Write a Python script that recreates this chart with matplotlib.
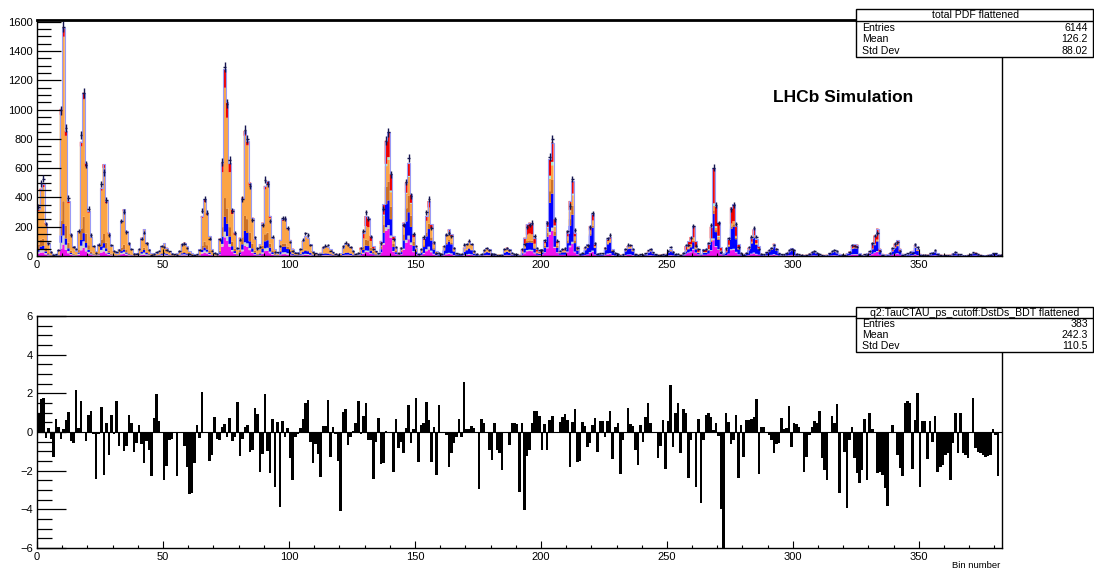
import numpy as np
import matplotlib
matplotlib.use('Agg')
from matplotlib import pyplot as plt
from matplotlib.patches import Rectangle
from matplotlib.lines import Line2D
from matplotlib.ticker import MultipleLocator

plt.rcParams['font.family'] = ['Liberation Sans', 'DejaVu Sans']

# total PDF per bin, groups of 8 bins
total = [
    320, 460, 490, 225, 85, 30, 15, 10,
    40, 1005, 1560, 855, 376, 150, 68, 34,
    170, 780, 1115, 636, 308, 130, 68, 34,
    79, 465, 627, 376, 160, 68, 34, 22,
    45, 240, 319, 171, 79, 45, 18, 18,
    45, 125, 182, 91, 45, 18, 11, 18,
    34, 68, 86, 57, 34, 18, 11, 18,
    34, 79, 91, 68, 34, 18, 11, 12,
    45, 274, 388, 296, 137, 45, 18, 15,
    118, 636, 1277, 1049, 636, 319, 160, 45,
    125, 399, 855, 787, 502, 262, 114, 45,
    79, 228, 479, 513, 274, 125, 45, 22,
    110, 250, 260, 190, 110, 50, 25, 20,
    46, 103, 137, 125, 80, 34, 20, 15,
    23, 57, 68, 62, 46, 23, 15, 15,
    20, 57, 80, 84, 62, 34, 15, 15,
    57, 160, 273, 262, 137, 68, 34, 15,
    103, 353, 787, 844, 559, 137, 57, 23,
    57, 228, 502, 636, 422, 148, 57, 20,
    46, 125, 273, 376, 216, 91, 34, 15,
    15, 68, 148, 182, 148, 57, 20, 12,
    15, 57, 80, 103, 80, 34, 15, 10,
    12, 39, 53, 46, 20, 12, 10, 10,
    12, 46, 57, 46, 20, 12, 10, 10,
    45, 125, 217, 228, 221, 125, 45, 34,
    45, 103, 239, 661, 775, 251, 103, 34,
    45, 45, 160, 376, 513, 160, 68, 20,
    20, 57, 80, 205, 285, 80, 20, 15,
    15, 57, 114, 130, 45, 20, 12, 10,
    12, 45, 68, 72, 45, 15, 10, 10,
    10, 15, 30, 45, 25, 12, 10, 10,
    10, 15, 30, 45, 30, 12, 10, 10,
    15, 68, 100, 130, 205, 100, 45, 15,
    45, 45, 80, 200, 600, 340, 230, 60,
    20, 45, 114, 331, 355, 205, 80, 20,
    15, 20, 57, 125, 182, 114, 68, 15,
    10, 25, 40, 55, 84, 50, 20, 10,
    10, 20, 35, 52, 40, 15, 10, 8,
    8, 10, 15, 25, 30, 20, 10, 8,
    8, 10, 18, 28, 39, 25, 15, 8,
    8, 20, 30, 72, 80, 78, 20, 8,
    10, 20, 30, 85, 140, 187, 50, 15,
    10, 12, 20, 50, 85, 107, 50, 15,
    8, 12, 20, 35, 75, 45, 15, 8,
    8, 10, 15, 25, 34, 20, 10, 8,
    8, 8, 10, 18, 23, 15, 8, 6,
    6, 8, 12, 18, 23, 15, 8, 6,
    6, 8, 12, 18, 20, 12, 8,
]

# pulls (data - model) / error per bin
pulls = [
    1.0, 1.69, 1.74, -0.3, 0.22, -0.38, -1.28, 0.69, 0.26, -0.34,
    0.17, 0.62, 1.03, -0.47, -0.55, 2.17, 0.22, 1.62, 0.0, -0.47,
    0.86, 1.09, -0.1, -2.45, -0.1, 1.28, -2.2, 0.45, -1.19, 0.88,
    -0.1, 1.62, -0.72, 0.02, -0.98, -0.72, 0.88, 0.45, -1.02, -0.55,
    0.37, -0.6, -1.6, -0.47, -0.95, -2.3, 0.74, 1.98, 0.55, -0.05,
    -2.48, -1.76, -0.43, -0.34, 0.02, -2.28, -0.02, -0.05, -0.72, -1.79,
    -3.2, -3.17, -1.62, 0.36, -0.3, 2.07, -0.05, -0.05, -1.5, -1.19,
    0.76, -0.34, -0.43, 0.28, 0.4, -0.24, 0.72, -0.47, -0.24, 1.57,
    -1.24, -0.38, 0.28, 0.36, -1.02, -0.95, 1.26, 0.93, -2.05, -1.14,
    1.95, -1.0, -2.14, 0.65, -2.86, 0.5, -3.9, 0.55, -0.24, 0.2,
    -1.33, -2.5, -0.24, -0.1, 0.22, 0.69, 1.48, 1.67, -0.5, -1.6,
    -0.6, -1.14, -2.33, 0.31, 0.31, 1.67,
    -1.28, 0.28, -0.1, -1.5, -4.1, 1.05, 1.17, -0.67, -0.24, 0.05,
    0.45, 1.62, -0.1, 0.83, 1.48, -0.4, -0.4, -2.43, -0.5, 0.71,
    -1.67, -1.62, 0.05, 0.02, -0.03, -2.05, 0.66, -0.84, -0.5, -1.07,
    0.19, 1.4, -0.55, 0.14, 1.74, -1.53, 0.36, 0.45, 1.57, 0.62,
    -1.53, 0.28, -2.22, 1.4, 0.02, -0.07, -0.16, -1.79, -1.1, -0.55,
    -0.24, 0.66, -0.24, 2.6, 0.14, 0.14, 0.31, 0.19, 0.02, -2.95,
    0.66, 0.45, 0.02, -0.93, -1.45, 0.45, -0.93, -1.1, -1.97, 0.02,
    0.02, -0.67, 0.45, 0.48, 0.41, -3.1, 0.45, -4.03, -1.24, -0.93,
    0.45, 1.1, 1.1, 0.83, -0.93, 0.41, -0.93, 0.6, 0.83, 0.02,
    0.02, 0.53, 0.8, 0.93, 0.6, -1.79, 0.53, 1.17, -1.53, -1.48,
    0.53, 0.31, -0.76, -0.55, 0.36, 0.71, -1.02, 0.58, 0.58, -0.24,
    0.58, 1.1, -1.41, 0.28, 0.48, -2.17, -0.4, 0.02, 1.26, 0.41,
    0.31, -0.93, -1.71, 0.36, -0.5, 0.8, 1.48, 0.45, -0.03, 0.02,
    -1.33, -0.72, 0.62, -1.9, 0.58, 2.43, -0.79, 1.0, 1.48,
    -1.07, 1.17, 1.0, -2.4, -0.41, -0.05, -2.83, 0.66, -3.69, -0.41,
    0.88, 0.97, 0.76, 0.1, 0.45, -0.2, -4.0, -6.5,
    0.97, 0.53, -0.62, -0.41, 0.88, -2.4, 0.36, -1.31, 0.62, 0.62,
    0.67, 0.79, 1.71, -2.17, 0.24, 0.24, -0.07, -0.16, -0.41, -1.07,
    -0.62, -0.55, 0.71, 0.14, 0.19, 1.34, -0.79, 0.45, 0.41, 0.28,
    -0.07, -2.05, -1.28, -0.16, 0.28, 0.59, 0.45, 1.1, -1.36, -1.97,
    -2.48, -0.07, 0.83, 0.48, 1.43, -3.17, -0.07, -1.02, -3.95, -0.41,
    0.24, -1.36, -2.14, -2.66, -1.97, 0.66, -2.48, 1.0, 0.14, -0.07,
    -2.14, -2.05, -2.22, -2.91, -3.83, -0.07, 0.36, -0.07, -1.19, -1.88,
    -2.28, 1.48, 1.62, 1.48, -1.93, 0.62, 2.03, -2.83, 0.59, 0.59,
    -1.41, 0.59, -0.5, 0.83, -2.05, -1.79, -1.71, -1.19, -1.1, -2.48,
    -0.59, 0.97, -1.1, 0.97, -1.1, -1.19, -1.36, -0.07, 1.74, -0.84,
    -1.02, -1.1, -1.19, -1.28, -1.24, -1.19, 0.14, -0.16, -2.28, -0.07,
]

# composition of each group of 8 bins (fraction of the total); orange takes the rest
f_magenta = [.05, .05, .05, .05, .05, .05, .05, .05, .06, .10, .08, .07, .05, .05, .05, .05,
             .10, .22, .18, .12, .08, .08, .08, .08, .15, .22, .16, .10, .10, .10, .10, .10,
             .20, .18, .12, .10, .10, .10, .10, .10, .12, .15, .15, .10, .10, .10, .10, .10]
f_grey = [.04, .04, .04, .04, .04, .08, .08, .08, .04, .03, .03, .04, .05, .06, .06, .06,
          .04, .03, .04, .05, .04, .06, .06, .06, .04, .03, .03, .03, .05, .05, .05, .05,
          .04, .02, .02, .03, .05, .05, .05, .05, .04, .03, .03, .05, .05, .05, .05, .05]
f_blue = [.05, .05, .05, .05, .05, .10, .10, .10, .05, .08, .09, .10, .15, .15, .15, .15,
          .12, .20, .25, .32, .42, .35, .35, .35, .22, .30, .36, .55, .55, .55, .55, .55,
          .22, .28, .42, .55, .60, .60, .60, .60, .50, .35, .45, .60, .60, .60, .60, .60]
f_brown = [.10, .10, .10, .10, .10, .08, .08, .08, .10, .10, .12, .10, .08, .05, .05, .05,
           .15, .15, .18, .10, .06, .05, .05, .05, .06, .12, .12, .05, .03, .03, .03, .03,
           .05, .04, .05, .03, .03, .03, .03, .03, .00, .03, .00, .00, .00, .00, .00, .00]
f_cyan = [0] * 17 + [.02, .01] + [0] * 6 + [.03, .02] + [0] * 6 + [.03] + [0] * 14
f_red = [.04, .04, .04, .04, .04, .03, .03, .03, .05, .10, .04, .05, .04, .03, .03, .03,
         .25, .20, .14, .12, .08, .05, .05, .05, .33, .17, .17, .15, .10, .10, .10, .10,
         .38, .40, .33, .22, .10, .10, .10, .10, .25, .40, .28, .12, .12, .12, .12, .12]

stats_top = ['total PDF flattened', '6144', '126.2', '88.02']
stats_bot = ['q2:TauCTAU_ps_cutoff:DstDs_BDT flattened', '383', '242.3', '110.5']

W, H = 1094, 574
fig = plt.figure(figsize=(W / 100, H / 100), dpi=100)

def fx(px):
    return px / W

def fy(py):
    return 1 - py / H

ax1 = fig.add_axes([fx(37), fy(256), fx(1002) - fx(37), fy(20) - fy(256)])
ax2 = fig.add_axes([fx(37), fy(548), fx(1002) - fx(37), fy(316) - fy(548)])

tot = np.array(total, dtype=float)
nb = len(tot)
grp = np.arange(nb) // 8
edges = np.arange(nb + 1)
comps = [
    (np.array(f_magenta)[grp], '#ee11ee'),
    (np.array(f_grey)[grp], '#cfcfcf'),
    (np.array(f_blue)[grp], '#0000ff'),
    (np.array(f_brown)[grp], '#cc7026'),
]
f_or = 1 - sum(np.array(f)[grp] for f in [f_magenta, f_grey, f_blue, f_brown, f_cyan, f_red])
comps += [(f_or, '#fba446'), (np.array(f_cyan)[grp], '#a8ecd2'), (np.array(f_red)[grp], '#ee0000')]

# stacked components, drawn as filled steps so neighbouring bins touch
bottom = np.zeros(nb)
for frac, col in comps:
    top = bottom + frac * tot
    ax1.stairs(top, edges, baseline=bottom, fill=True, color=col, linewidth=0)
    bottom = top
ax1.stairs(tot, edges, color='#9a9af5', linewidth=0.8)

pl = np.array(pulls)
data = tot + pl * np.sqrt(tot)
ax1.errorbar(edges[:-1] + 0.5, data, yerr=np.sqrt(np.clip(data, 0, None)), xerr=0.5,
             fmt='none', ecolor='#14144e', elinewidth=1.0, capsize=0)

ax1.set_xlim(0, nb)
ax1.set_ylim(0, 1612)
ax1.yaxis.set_major_locator(MultipleLocator(200))
ax1.yaxis.set_minor_locator(MultipleLocator(50))
ax1.xaxis.set_major_locator(MultipleLocator(50))
ax1.xaxis.set_minor_locator(MultipleLocator(10))
ax1.tick_params(axis='y', which='major', direction='in', length=17, width=0.9, labelsize=8, pad=3)
ax1.tick_params(axis='y', which='minor', direction='in', length=10, width=0.9)
ax1.tick_params(axis='x', which='major', direction='in', length=5, width=0.8, labelsize=8, pad=3)
ax1.tick_params(axis='x', which='minor', direction='in', length=2.5, width=0.8)
for s in ax1.spines.values():
    s.set_linewidth(1.0)
ax1.spines['top'].set_linewidth(2.0)

fig.text(fx(843), fy(97), 'LHCb Simulation', fontsize=12.5, fontweight='bold',
         ha='center', va='center')

ax2.stairs(pl, edges, baseline=0, fill=True, color='black', linewidth=0)
ax2.axhline(0, color='black', linewidth=0.8)
ax2.set_xlim(0, nb)
ax2.set_ylim(-6, 6)
ax2.yaxis.set_major_locator(MultipleLocator(2))
ax2.yaxis.set_minor_locator(MultipleLocator(0.5))
ax2.xaxis.set_major_locator(MultipleLocator(50))
ax2.xaxis.set_minor_locator(MultipleLocator(10))
ax2.tick_params(axis='y', which='major', direction='in', length=21, width=0.9, labelsize=8, pad=3)
ax2.tick_params(axis='y', which='minor', direction='in', length=11, width=0.9)
ax2.tick_params(axis='x', which='major', direction='in', length=5, width=0.8, labelsize=8, pad=3)
ax2.tick_params(axis='x', which='minor', direction='in', length=2.5, width=0.8)
for s in ax2.spines.values():
    s.set_linewidth(1.0)
fig.text(fx(1000), fy(566), 'Bin number', fontsize=6.8, ha='right', va='center')

def stats_box(top, bottom_px, title_line, rows_y, vals):
    fig.add_artist(Rectangle((fx(856), fy(bottom_px)), fx(1093) - fx(856), fy(top) - fy(bottom_px),
                             transform=fig.transFigure, facecolor='white', edgecolor='black',
                             linewidth=1.0, zorder=4))
    fig.add_artist(Line2D([fx(856), fx(1093)], [fy(title_line), fy(title_line)],
                          transform=fig.transFigure, color='black', linewidth=1.0, zorder=5))
    fig.text(fx(975), fy((top + title_line) / 2), vals[0], fontsize=7.6, ha='center', va='center', zorder=6)
    for lab, val, y in zip(['Entries', 'Mean', 'Std Dev'], vals[1:], rows_y):
        fig.text(fx(862), fy(y), lab, fontsize=7.6, ha='left', va='center', zorder=6)
        fig.text(fx(1088), fy(y), val, fontsize=7.6, ha='right', va='center', zorder=6)

stats_box(9, 57, 21, [28, 39.5, 51], stats_top)
stats_box(307, 352, 318, [324, 335.5, 346], stats_bot)

fig.savefig('out.png', dpi=100)
